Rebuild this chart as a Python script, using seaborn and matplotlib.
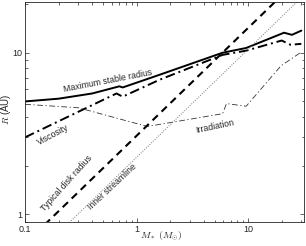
import numpy as np
import pandas as pd
import matplotlib
matplotlib.use("Agg")
import matplotlib.pyplot as plt
import seaborn as sns

sns.set_style("ticks")
plt.rcParams["font.family"] = ["Liberation Sans", "DejaVu Sans"]
plt.rcParams["mathtext.fontset"] = "cm"
plt.rcParams["xtick.direction"] = "in"
plt.rcParams["ytick.direction"] = "in"
plt.rcParams["xtick.top"] = True
plt.rcParams["ytick.right"] = True

# values (M_* in M_sun, R in AU)
max_stable_m = [0.1, 0.2, 0.4, 0.7, 0.75, 1.6, 5.9, 9.6, 21, 24.7, 30]
max_stable_r = [5.0, 5.2, 5.6, 6.2, 6.1, 7.3, 10.0, 10.7, 13.3, 12.9, 13.7]

viscosity_m = [0.1, 0.66, 0.75, 1.6, 5.9, 9.6, 20, 24, 30]
viscosity_r = [3.0, 5.6, 5.35, 6.8, 9.7, 10.3, 11.9, 11.2, 11.35]

irradiation_m = [0.1, 0.3, 1.25, 5.9, 6.4, 9.6, 19.7, 30]
irradiation_r = [4.8, 4.57, 3.5, 4.2, 4.85, 4.67, 8.3, 10.1]

disk_m = [0.15, 20]
disk_r = [0.866, 22.6]

streamline_m = [0.24, 30]
streamline_r = [0.87, 21.9]

fig = plt.figure(figsize=(3.06, 2.46), dpi=100)
ax = fig.add_axes([0.082, 0.098, 0.911, 0.894])

sns.lineplot(x=max_stable_m, y=max_stable_r, ax=ax, color="black", lw=1.4, sort=False, estimator=None)
sns.lineplot(x=viscosity_m, y=viscosity_r, ax=ax, color="black", lw=1.4, sort=False, estimator=None)
ax.lines[-1].set_linestyle((0, (5, 2, 1, 2)))
sns.lineplot(x=irradiation_m, y=irradiation_r, ax=ax, color="#333333", lw=0.6, sort=False, estimator=None)
ax.lines[-1].set_linestyle((0, (7, 3, 1.5, 3)))
sns.lineplot(x=disk_m, y=disk_r, ax=ax, color="black", lw=1.5, sort=False, estimator=None)
ax.lines[-1].set_linestyle((0, (3.5, 2.5)))
sns.lineplot(x=streamline_m, y=streamline_r, ax=ax, color="#777777", lw=0.7, sort=False, estimator=None)
ax.lines[-1].set_linestyle((0, (1, 1.5)))

ax.set_xscale("log")
ax.set_yscale("log")
ax.set_xlim(0.1, 31.6)
ax.set_ylim(0.9, 20.6)

ax.set_xticks([0.1, 1, 10])
ax.set_xticklabels(["0.1", "1", "10"])
ax.set_yticks([1, 10])
ax.set_yticklabels(["1", "10"])
ax.tick_params(which="major", length=3, width=0.5, labelsize=6.5, pad=2)
ax.tick_params(which="minor", length=1.8, width=0.5)
for s in ax.spines.values():
    s.set_linewidth(0.6)

ax.set_xlabel(r"$M_*$ $(M_{\odot})$", fontsize=7, va="center")
ax.set_ylabel(r"$R$ (AU)", fontsize=7, va="center")
ax.xaxis.set_label_coords(0.49, -0.068)
ax.yaxis.set_label_coords(-0.068, 0.51)

fs = 6.3
ax.text(0.55, 6.7, "Maximum stable radius", fontsize=fs, rotation=11, ha="center", va="center")
ax.text(0.178, 3.1, "Viscosity", fontsize=fs, rotation=28, ha="center", va="center")
ax.text(5.07, 3.49, "Irradiation", fontsize=fs, rotation=12, ha="center", va="center")
ax.text(0.237, 1.55, "Typical disk radius", fontsize=fs, rotation=48, ha="center", va="center")
ax.text(0.61, 1.49, "Inner streamline", fontsize=fs, rotation=43, ha="center", va="center")

fig.savefig("out.png", dpi=100)
